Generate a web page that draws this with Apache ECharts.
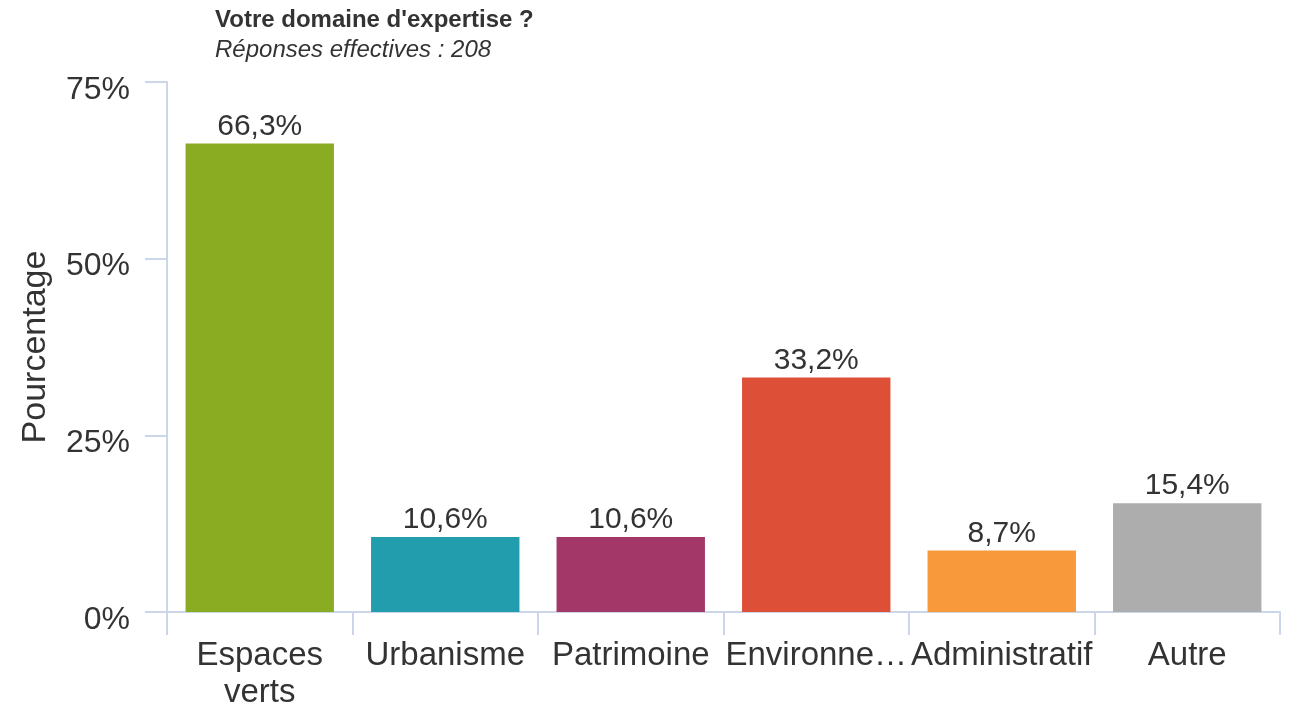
<!DOCTYPE html>
<html lang="fr">
<head>
    <meta charset="UTF-8">
    <title>Votre domaine d'expertise ?</title>
    <style>
        html, body { margin: 0; padding: 0; background: #fff; }
        #chart { width: 1294px; height: 711px; }
    </style>
</head>
<body>
<div id="chart"></div>
<script src="https://cdn.jsdelivr.net/npm/echarts@6/dist/echarts.min.js"></script>
<script>
    var categories = ['Espaces verts', 'Urbanisme', 'Patrimoine', 'Environnement', 'Administratif', 'Autre'];
    var tickLabels = ['Espaces\nverts', 'Urbanisme', 'Patrimoine', 'Environne\u2026', 'Administratif', 'Autre'];
    var percentages = [66.3, 10.6, 10.6, 33.2, 8.7, 15.4];
    var barColors = ['#8aac22', '#229dad', '#a33767', '#dd5037', '#f89a3c', '#adadad'];
    var yTicks = [0, 25, 50, 75];

    var font = 'Liberation Sans, Arial, sans-serif';
    var axisColor = '#ccd6eb';

    var myChart = echarts.init(document.getElementById('chart'), null, {renderer: 'canvas'});

    var seriesData = [];
    for (var i = 0; i < percentages.length; i++) {
        seriesData.push({
            value: percentages[i],
            itemStyle: { color: barColors[i] }
        });
    }

    myChart.setOption({
        animation: false,
        title: {
            text: "Votre domaine d'expertise ?",
            subtext: 'Réponses effectives : 208',
            left: 210,
            top: 3,
            itemGap: 6,
            textStyle: { fontFamily: font, fontSize: 24, fontWeight: 'bold', color: '#333' },
            subtextStyle: { fontFamily: font, fontSize: 24, fontStyle: 'italic', color: '#333' }
        },
        grid: { left: 167, right: 14, top: 82, bottom: 98, containLabel: false },
        xAxis: {
            type: 'category',
            data: categories,
            axisLine: { lineStyle: { color: axisColor, width: 2 } },
            axisTick: { show: true, length: 23, lineStyle: { color: axisColor, width: 2 } },
            axisLabel: {
                margin: 25,
                fontFamily: font,
                fontSize: 33,
                lineHeight: 37,
                color: '#333',
                interval: 0,
                formatter: function (v, idx) { return tickLabels[idx]; }
            }
        },
        yAxis: {
            type: 'value',
            min: yTicks[0],
            max: yTicks[yTicks.length - 1],
            interval: 25,
            name: 'Pourcentage',
            nameLocation: 'middle',
            nameGap: 114,
            nameTextStyle: { fontFamily: font, fontSize: 34, color: '#333' },
            axisLine: { show: true, lineStyle: { color: axisColor, width: 2 } },
            axisTick: { show: true, length: 22, lineStyle: { color: axisColor, width: 2 } },
            splitLine: { show: false },
            axisLabel: {
                margin: 37,
                fontFamily: font,
                fontSize: 32,
                color: '#333',
                verticalAlign: 'top',
                lineHeight: 16,
                formatter: '{value}%'
            }
        },
        series: [{
            type: 'bar',
            data: seriesData,
            barCategoryGap: '20%',
            label: {
                show: true,
                position: 'top',
                distance: 2,
                fontFamily: font,
                fontSize: 30,
                color: '#333',
                formatter: function (p) { return String(p.value.toFixed(1)).replace('.', ',') + '%'; }
            }
        }]
    });
</script>
</body>
</html>
